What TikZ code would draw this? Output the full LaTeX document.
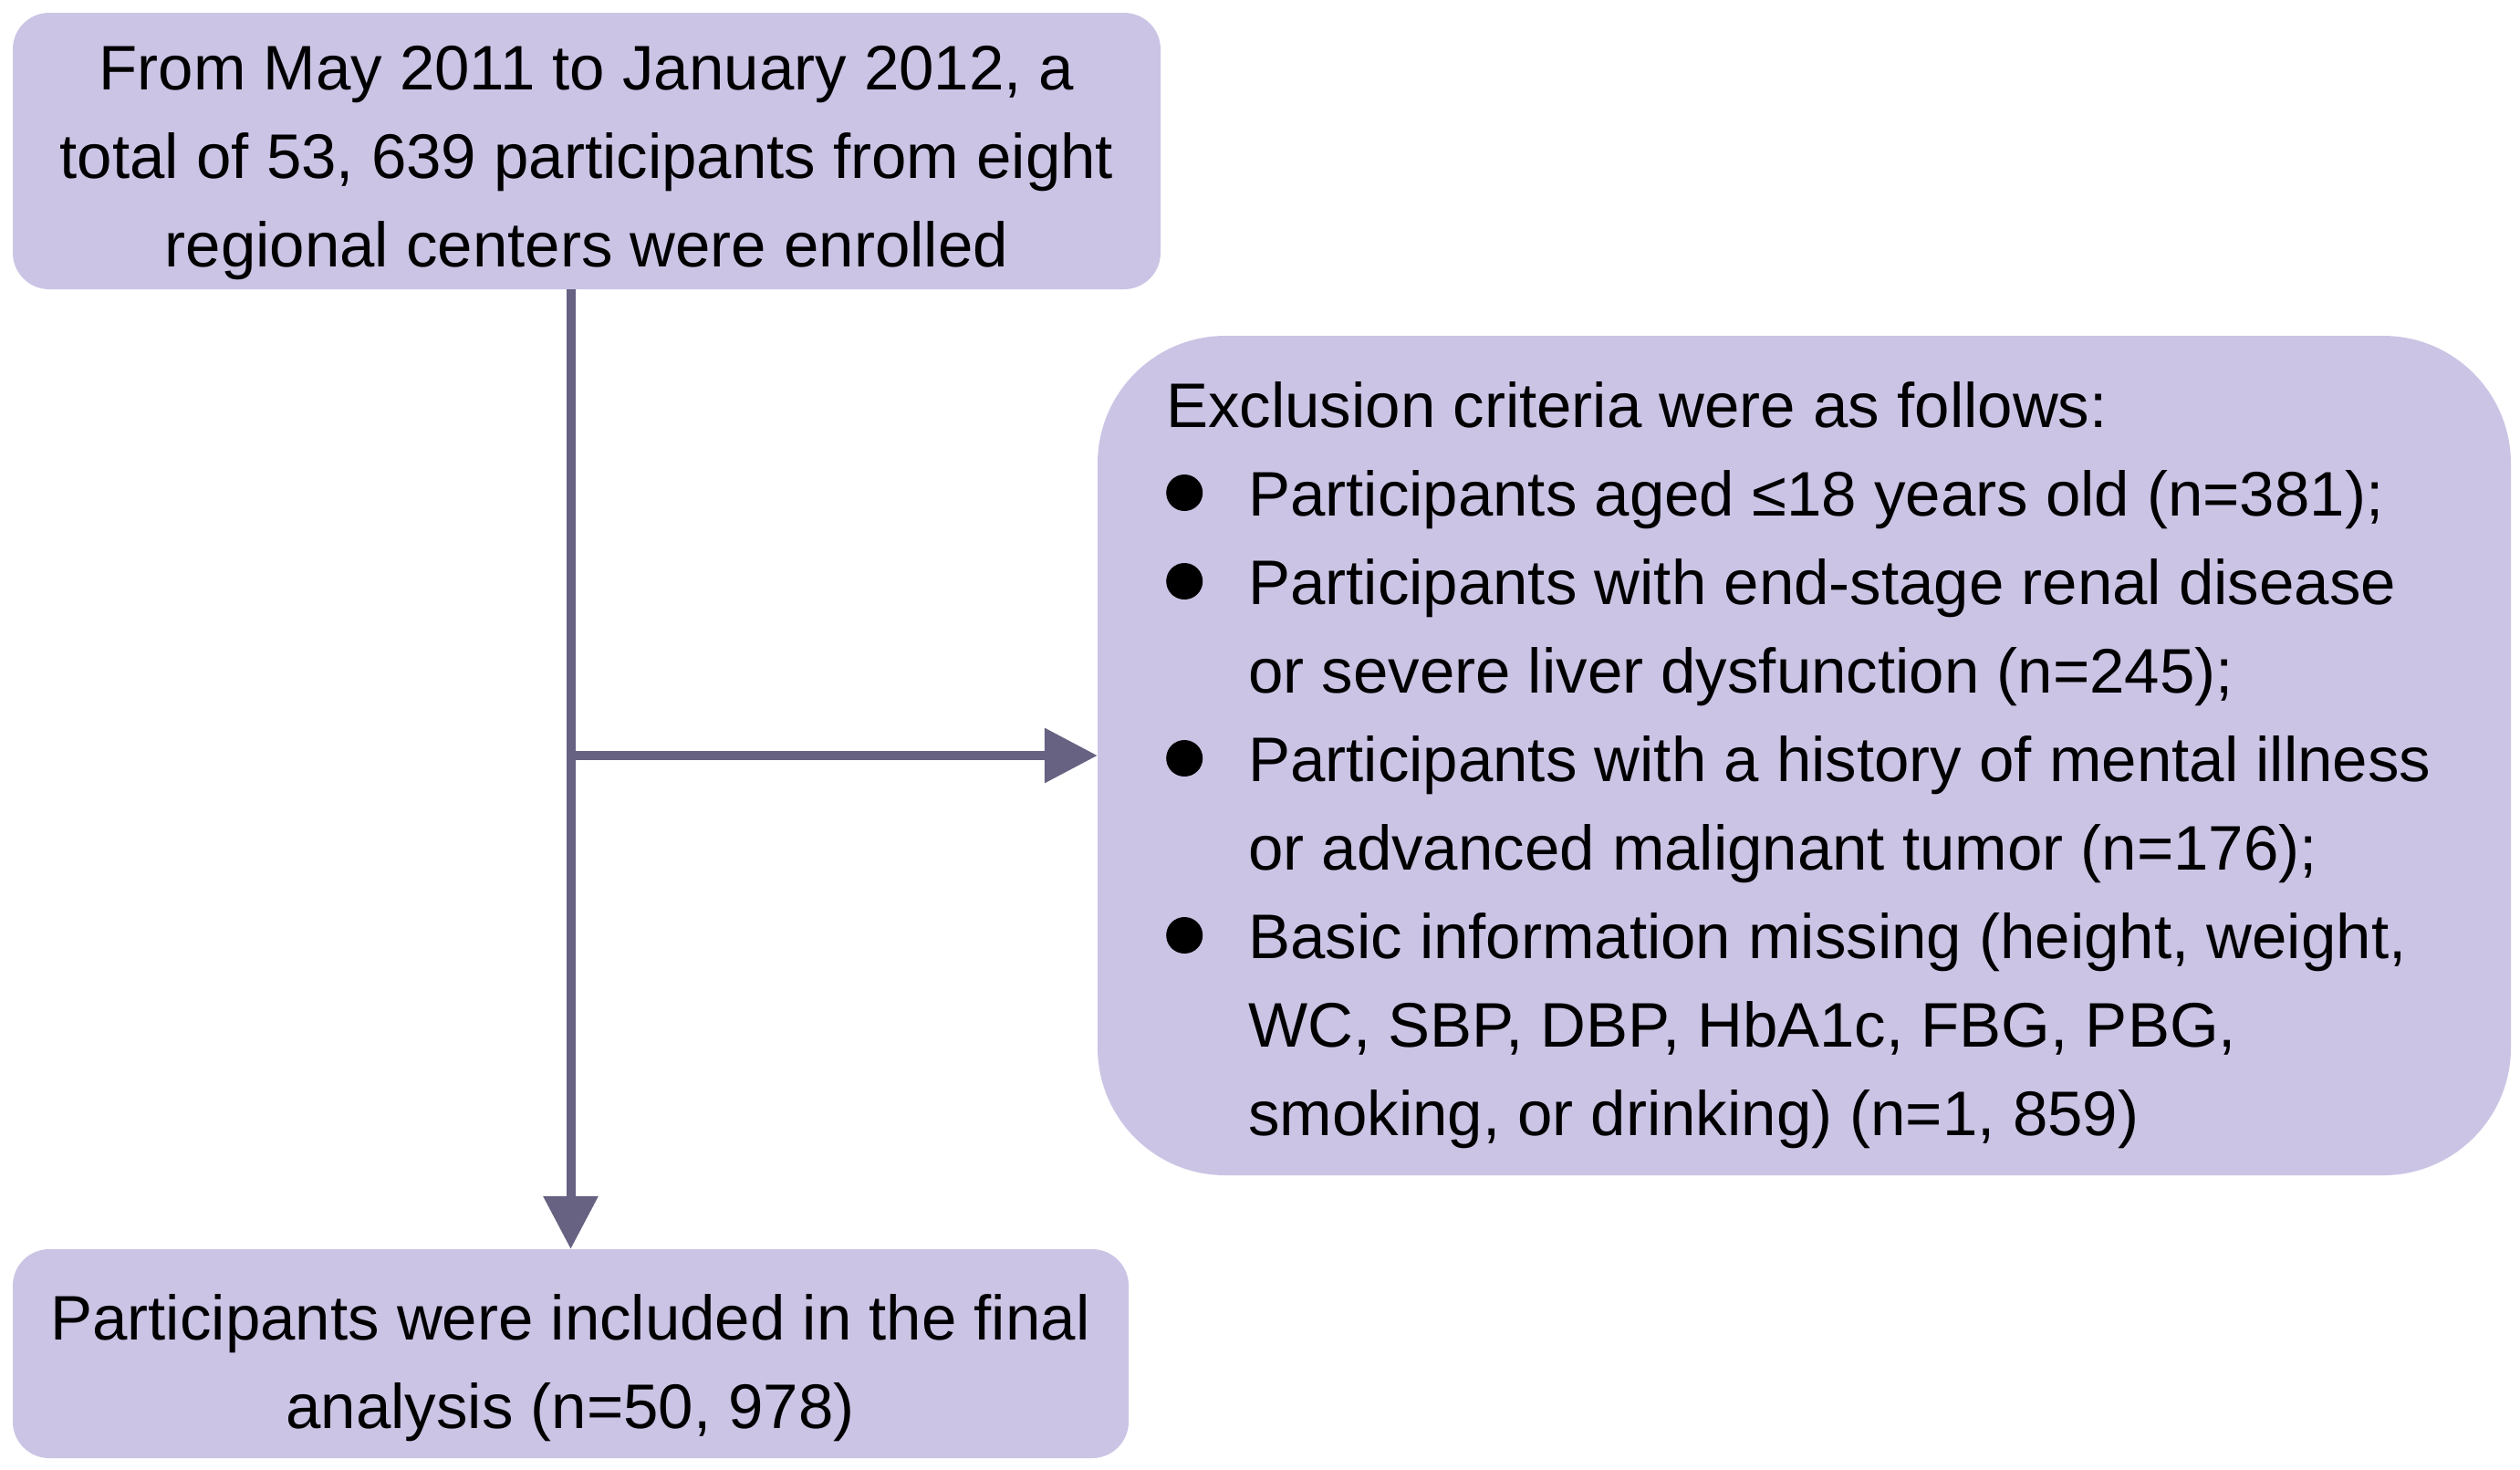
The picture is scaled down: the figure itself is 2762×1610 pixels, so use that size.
\documentclass[tikz,border=0pt]{standalone}
\usepackage{fontspec}
\setmainfont{Liberation Sans}
\usetikzlibrary{fit,arrows.meta}
\definecolor{boxfill}{RGB}{203,196,229}
\definecolor{linecol}{RGB}{103,97,130}
\tikzset{
  boxshape/.style={fill=boxfill, draw=none, inner sep=0pt},
  smallbox/.style={boxshape, rounded corners=40pt},
  bigbox/.style={boxshape, rounded corners=140pt},
  txt/.style={inner sep=0pt, font=\fontsize{69}{97}\selectfont},
  conn/.style={draw=linecol, line width=10pt, -{Triangle[length=58pt,width=58pt]}},
}
\newcommand{\mybullet}{\makebox[90pt][l]{\tikz[baseline=-25pt]\fill (0,0) circle[radius=20pt];}}
\newcommand{\myindent}{\hspace*{90pt}}
\begin{document}
\begin{tikzpicture}[x=1pt,y=-1pt]
\useasboundingbox (0,0) rectangle (2762,1610);
\node[smallbox, fit={(14,14) (1272,317)}] (top) {};
\node[bigbox, fit={(1203,368) (2752,1288)}] (excl) {};
\node[smallbox, fit={(14,1369) (1237,1598)}] (bot) {};
% anchor=base of a multi-line node is the baseline of its last line
\node[txt, align=center, anchor=base] (toptxt) at (643,292)
  {From May 2011 to January 2012, a\\total of 53, 639 participants from eight\\regional centers were enrolled};
\node[txt, align=left, anchor=base west] (excltxt) at (1278,1244)
  {Exclusion criteria were as follows:\\
   \mybullet Participants aged ≤18 years old (n=381);\\
   \mybullet Participants with end-stage renal disease\\
   \myindent or severe liver dysfunction (n=245);\\
   \mybullet Participants with a history of mental illness\\
   \myindent or advanced malignant tumor (n=176);\\
   \mybullet Basic information missing (height, weight,\\
   \myindent WC, SBP, DBP, HbA1c, FBG, PBG,\\
   \myindent smoking, or drinking) (n=1, 859)};
\node[txt, align=center, anchor=base] (bottxt) at (625,1565)
  {Participants were included in the final\\analysis (n=50, 978)};
\draw[conn] (top.south -| bot.north) -- (bot.north);
\draw[conn] (bot.north |- excl.west) -- (excl.west);
\end{tikzpicture}
\end{document}
